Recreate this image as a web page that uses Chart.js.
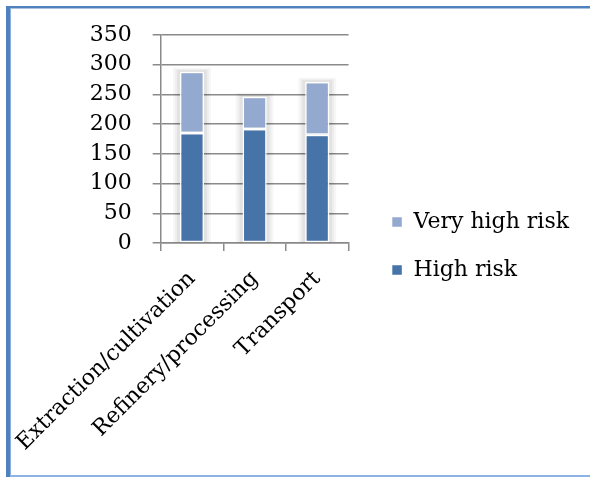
<!DOCTYPE html>
<html>
<head>
<meta charset="utf-8">
<script src="https://cdn.jsdelivr.net/npm/chart.js@4/dist/chart.umd.min.js"></script>
<style>
  html, body { margin: 0; padding: 0; background: #ffffff; }
  #wrap { position: relative; width: 590px; height: 477px; overflow: hidden; }
  #c { position: absolute; left: 0; top: 0; }
  .edge { position: absolute; }
  #edgeTop { left: 6px; top: 6px; width: 584px; height: 2px; background: #4f81bd; }
  #edgeTop2 { left: 11px; top: 8px; width: 579px; height: 1px; background: #a9c2e2; }
  #edgeLeft { left: 6px; top: 6px; width: 4px; height: 471px; background: #4f81bd; }
  #edgeLeft2 { left: 10px; top: 8px; width: 1px; height: 469px; background: #8eb0da; }
  #edgeBottom { left: 10px; top: 475px; width: 580px; height: 2px; background: #8db3e2; }
</style>
</head>
<body>
<div id="wrap">
  <canvas id="c" width="590" height="477"></canvas>
  <div class="edge" id="edgeTop"></div>
  <div class="edge" id="edgeTop2"></div>
  <div class="edge" id="edgeLeft"></div>
  <div class="edge" id="edgeLeft2"></div>
  <div class="edge" id="edgeBottom"></div>
</div>
<script>
// Supply-chain stages and counts per risk level
const categories = ['Extraction/cultivation', 'Refinery/processing', 'Transport'];
const highRisk = [185, 192, 182];
const veryHighRisk = [103, 54, 89];
const yTicks = [0, 50, 100, 150, 200, 250, 300, 350];

const FONT = { family: '"DejaVu Serif", serif', size: 22 };
const GRID = '#8a8a8a';

// Stepped grey glow behind each stacked column
const columnShadow = {
  id: 'columnShadow',
  beforeDatasetsDraw(chart) {
    const ctx = chart.ctx;
    const bottomMeta = chart.getDatasetMeta(0);
    const topMeta = chart.getDatasetMeta(1);
    const bands = [
      { grow: 7, color: 'rgba(0,0,0,0.03)' },
      { grow: 5, color: 'rgba(0,0,0,0.04)' },
      { grow: 3, color: 'rgba(0,0,0,0.05)' }
    ];
    ctx.save();
    bottomMeta.data.forEach((bar, i) => {
      const top = topMeta.data[i];
      const w = bar.width;
      bands.forEach(b => {
        ctx.fillStyle = b.color;
        ctx.fillRect(bar.x - w / 2 - b.grow, top.y - b.grow * 0.6, w + 2 * b.grow, bar.base - top.y + b.grow * 0.6);
      });
    });
    ctx.restore();
  }
};

new Chart(document.getElementById('c'), {
  type: 'bar',
  data: {
    labels: categories,
    datasets: [
      {
        label: 'High risk',
        data: highRisk,
        backgroundColor: '#4673a8',
        borderColor: '#ffffff',
        borderWidth: 1.5,
        borderSkipped: false
      },
      {
        label: 'Very high risk',
        data: veryHighRisk,
        backgroundColor: '#93a9cf',
        borderColor: '#ffffff',
        borderWidth: 1.5,
        borderSkipped: false
      }
    ]
  },
  options: {
    responsive: false,
    animation: false,
    events: [],
    layout: { padding: { left: 77, top: 35, right: 11, bottom: 20 } },
    datasets: { bar: { categoryPercentage: 0.77, barPercentage: 0.5 } },
    plugins: {
      tooltip: { enabled: false },
      legend: {
        position: 'right',
        reverse: true,
        maxWidth: 260,
        labels: {
          color: '#000000',
          font: FONT,
          boxWidth: 11,
          boxHeight: 11,
          padding: 26
        }
      }
    },
    scales: {
      x: {
        stacked: true,
        afterFit(scale) {
          scale.paddingLeft = 0;
          scale.paddingRight = 0;
          scale.height = 214;
        },
        grid: {
          display: true,
          offset: true,
          drawOnChartArea: false,
          drawTicks: true,
          tickLength: 8,
          color: GRID,
          lineWidth: 1.5
        },
        border: { display: true, color: GRID, width: 1.5 },
        ticks: {
          color: '#000000',
          font: FONT,
          minRotation: 45,
          maxRotation: 45,
          padding: 15
        }
      },
      y: {
        stacked: true,
        min: 0,
        max: 350,
        afterBuildTicks(scale) {
          scale.ticks = yTicks.map(v => ({ value: v }));
        },
        grid: {
          color: GRID,
          lineWidth: 1.5,
          drawTicks: true,
          tickLength: 8
        },
        border: { display: true, color: GRID, width: 1.5 },
        ticks: {
          color: '#000000',
          font: FONT,
          padding: 21
        }
      },
      gap: {
        type: 'linear',
        position: 'right',
        display: true,
        grid: { display: false },
        border: { display: false },
        ticks: { display: false },
        afterFit(scale) { scale.width = 17; }
      }
    }
  },
  plugins: [columnShadow]
});
</script>
</body>
</html>
